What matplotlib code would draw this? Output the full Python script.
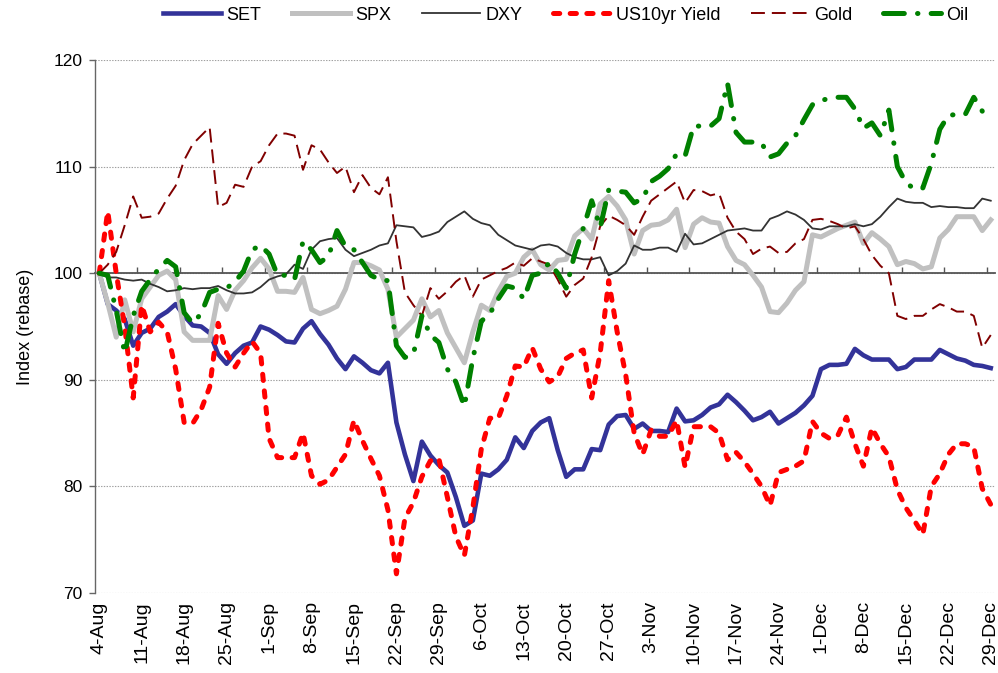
import matplotlib
matplotlib.use("Agg")
import matplotlib.pyplot as plt
import numpy as np

plt.rcParams['font.family'] = ['Liberation Sans', 'DejaVu Sans']
plt.rcParams['lines.scale_dashes'] = False

week_labels = ['4-Aug', '11-Aug', '18-Aug', '25-Aug', '1-Sep', '8-Sep', '15-Sep', '22-Sep',
               '29-Sep', '6-Oct', '13-Oct', '20-Oct', '27-Oct', '3-Nov', '10-Nov', '17-Nov',
               '24-Nov', '1-Dec', '8-Dec', '15-Dec', '22-Dec', '29-Dec']

set_idx = [100.0, 97.1, 96.5, 95.7, 93.2, 94.4, 94.8, 95.9, 96.4, 97.1,
           96.0, 95.1, 95.0, 94.4, 92.4, 91.5, 92.5, 93.2, 93.5, 95.0,
           94.7, 94.2, 93.6, 93.5, 94.8, 95.5, 94.3, 93.3, 92.0, 91.0,
           92.2, 91.6, 90.9, 90.6, 91.6, 86.0, 83.0, 80.5, 84.2, 82.9,
           82.0, 81.3, 79.0, 76.3, 76.8, 81.2, 81.0, 81.6, 82.5, 84.6,
           83.6, 85.2, 86.0, 86.4, 83.4, 80.9, 81.6, 81.6, 83.5, 83.4,
           85.8, 86.6, 86.7, 85.4, 85.9, 85.2, 85.2, 85.1, 87.3, 86.1,
           86.2, 86.7, 87.4, 87.7, 88.6, 87.9, 87.1, 86.2, 86.5, 87.0,
           85.9, 86.4, 86.9, 87.6, 88.5, 91.0, 91.4, 91.4, 91.5, 92.9,
           92.3, 91.9, 91.9, 91.9, 91.0, 91.2, 91.9, 91.9, 91.9, 92.8,
           92.4, 92.0, 91.8, 91.4, 91.3, 91.1]

spx = [100.0, 97.2, 94.0, 97.5, 94.5, 97.6, 98.7, 99.8, 100.2, 99.4,
       94.5, 93.7, 93.7, 93.7, 97.9, 96.6, 98.4, 99.3, 100.5, 101.4,
       100.4, 98.3, 98.3, 98.2, 99.6, 96.6, 96.2, 96.5, 96.9, 98.5,
       101.0, 101.0, 100.7, 100.3, 98.5, 94.0, 94.8, 95.6, 97.6, 95.9,
       96.5, 94.4, 93.0, 91.6, 94.5, 97.0, 96.5, 98.3, 99.7, 100.0,
       101.5, 102.2, 100.8, 100.3, 101.2, 101.3, 103.5, 104.2, 103.2, 106.5,
       107.2, 106.3, 105.0, 101.8, 104.0, 104.5, 104.6, 105.0, 106.0, 102.4,
       104.6, 105.2, 104.8, 104.7, 102.5, 101.2, 100.8, 99.8, 98.7, 96.4,
       96.3, 97.2, 98.4, 99.2, 103.6, 103.4, 103.8, 104.2, 104.5, 104.8,
       102.8, 103.8, 103.2, 102.5, 100.8, 101.1, 100.9, 100.4, 100.6, 103.3,
       104.1, 105.3, 105.3, 105.3, 104.0, 105.0]

dxy = [100.0, 99.6, 99.6, 99.4, 99.3, 99.4, 99.0, 98.7, 98.3, 98.4,
       98.6, 98.5, 98.6, 98.6, 98.8, 98.4, 98.1, 98.1, 98.2, 98.7,
       99.4, 99.7, 99.9, 100.8, 100.4, 102.2, 103.0, 103.2, 103.3, 102.2,
       101.6, 101.9, 102.2, 102.6, 102.8, 104.5, 104.4, 104.3, 103.4, 103.6,
       103.9, 104.8, 105.3, 105.8, 105.1, 104.7, 104.5, 103.6, 103.1, 102.6,
       102.4, 102.2, 102.6, 102.7, 102.5, 101.9, 101.5, 101.3, 101.3, 101.5,
       99.8, 100.2, 100.9, 102.6, 102.2, 102.2, 102.4, 102.4, 102.0, 103.7,
       102.7, 102.8, 103.2, 103.6, 104.0, 104.1, 104.2, 104.0, 104.0, 105.1,
       105.4, 105.8, 105.5, 105.0, 104.2, 104.1, 104.4, 104.4, 104.4, 104.6,
       104.4, 104.6, 105.3, 106.2, 107.0, 106.7, 106.6, 106.6, 106.2, 106.3,
       106.2, 106.2, 106.1, 106.1, 107.0, 106.8]

us10 = [100.0, 105.8, 100.0, 95.0, 88.3, 97.0, 94.5, 95.4, 94.5, 91.0,
        86.0, 85.9, 87.2, 89.3, 95.3, 92.5, 91.2, 92.5, 93.6, 92.5,
        84.5, 82.7, 82.7, 82.7, 85.0, 81.0, 80.2, 80.6, 81.8, 83.0,
        86.2, 84.3, 82.6, 81.0, 77.8, 71.8, 77.0, 78.5, 80.9, 82.4,
        82.6, 79.0, 75.3, 73.5, 78.0, 83.5, 86.4, 86.4, 88.5, 91.3,
        91.2, 93.0, 91.0, 89.8, 90.3, 92.0, 92.5, 92.8, 88.3, 92.5,
        99.3, 94.5, 90.5, 85.0, 83.0, 85.3, 84.7, 84.7, 86.2, 81.8,
        85.6, 85.6, 85.6, 85.0, 82.5, 83.2, 82.3, 81.2, 80.0, 78.2,
        81.3, 81.6, 81.9, 82.4, 86.1, 85.0, 84.5, 84.8, 86.5, 84.0,
        81.9, 85.5, 84.0, 82.8, 79.7, 78.0, 76.8, 75.5, 80.0, 81.2,
        83.0, 84.0, 84.0, 83.7, 79.8, 78.3]

gold = [100.0, 100.8, 102.0, 104.5, 107.2, 105.2, 105.3, 105.6, 107.0, 108.2,
        110.6, 112.1, 112.9, 113.7, 106.2, 106.6, 108.3, 108.1, 110.0, 110.5,
        112.0, 113.1, 113.1, 112.9, 109.7, 112.0, 111.6, 110.4, 109.4, 110.0,
        107.6, 109.2, 108.0, 107.4, 109.0, 103.0, 98.2, 97.0, 96.0, 98.6,
        97.6, 98.3, 99.2, 99.8, 97.8, 99.4, 99.8, 100.2, 100.5, 101.0,
        100.7, 101.4, 101.1, 100.8, 99.4, 97.8, 98.9, 99.5, 101.5, 104.4,
        105.4, 105.0, 104.5, 103.6, 105.3, 106.8, 107.4, 108.0, 108.6, 106.6,
        107.8, 107.7, 107.3, 107.5, 105.2, 103.9, 103.2, 101.8, 102.3, 102.5,
        101.9, 102.0, 102.8, 103.2, 105.0, 105.1, 104.9, 104.6, 104.2, 104.4,
        103.2, 101.7, 100.7, 100.0, 96.0, 95.7, 96.0, 96.0, 96.6, 97.1,
        96.8, 96.4, 96.4, 96.0, 93.0, 94.2]

oil = [100.0, 99.8, 96.5, 92.5, 96.0, 98.3, 99.4, 100.4, 101.2, 100.6,
       96.3, 95.3, 96.2, 98.2, 98.5, 98.6, 99.2, 100.2, 102.2, 102.6,
       101.8, 99.8, 99.8, 99.4, 103.0, 102.2, 101.0, 101.6, 104.0, 102.5,
       102.2, 101.0, 99.8, 99.4, 99.3, 93.2, 92.1, 92.4, 96.0, 94.2,
       93.5, 91.0, 89.8, 87.5, 92.0, 95.5, 96.2, 97.6, 98.8, 98.6,
       97.6, 99.8, 100.0, 101.0, 100.0, 98.6, 101.8, 104.2, 106.8, 104.3,
       107.8, 107.7, 107.6, 106.6, 107.0, 108.6, 109.1, 109.8, 111.2, 111.0,
       113.8, 113.8, 113.8, 114.5, 117.8, 113.2, 112.3, 112.3, 112.2, 110.9,
       111.2, 112.2, 112.9, 114.4, 115.8, 116.2, 116.4, 116.5, 116.5, 115.4,
       113.6, 114.1, 112.9, 115.3, 110.0, 108.5, 107.9, 108.0, 110.3, 113.5,
       114.8, 114.9, 114.9, 116.5, 115.2, 114.3]

x = np.arange(len(set_idx))

fig = plt.figure(figsize=(9.98, 6.73), dpi=100)
ax = fig.add_axes([95 / 998, 1 - 593 / 673, 900 / 998, 533 / 673])

ax.plot(x, set_idx, color='#333399', lw=3.3, label='SET', zorder=3)
ax.plot(x, spx, color='#C0C0C0', lw=3.6, label='SPX', zorder=4)
ax.plot(x, dxy, color='#333333', lw=1.3, label='DXY', zorder=5)
ax.plot(x, us10, color='#FF0000', lw=3.6, dashes=(4.5, 7.5), dash_capstyle='round',
        label='US10yr Yield', zorder=6)
ax.plot(x, gold, color='#800000', lw=1.4, dashes=(10, 5), label='Gold', zorder=7)
ax.plot(x, oil, color='#008000', lw=3.6, dashes=(15, 9.5, 0.3, 9.5), dash_capstyle='round',
        label='Oil', zorder=8)

ax.set_xlim(-0.5, len(x) - 0.5)
ax.set_ylim(70, 120)
ax.set_yticks([70, 80, 90, 100, 110, 120])
ax.yaxis.grid(True, linestyle=(0, (1, 1)), linewidth=0.8, color='#A0A0A0')
ax.set_axisbelow(True)

for s in ['top', 'right']:
    ax.spines[s].set_visible(False)
ax.spines['left'].set_color('#666666')
ax.spines['left'].set_linewidth(1.0)
ax.spines['bottom'].set_position(('data', 100))
ax.spines['bottom'].set_color('#555555')
ax.spines['bottom'].set_linewidth(1.3)
ax.spines['bottom'].set_zorder(2)

ax.set_xticks(np.arange(4.5, len(x) - 1, 5))
ax.tick_params(axis='x', direction='in', length=4, width=1.0, color='#555555', labelbottom=False)
ax.tick_params(axis='y', direction='out', length=4, width=1.0, color='#666666', labelsize=12.5, pad=5)

sec = ax.secondary_xaxis(0)
sec.set_xticks(x[::5])
sec.set_xticklabels(week_labels, rotation=90, fontsize=14)
sec.tick_params(length=0, pad=6)
sec.spines['bottom'].set_visible(False)

ax.set_ylabel('Index (rebase)', fontsize=13, labelpad=14)

handles, labels = ax.get_legend_handles_labels()
fig.legend(handles, labels, loc='center', bbox_to_anchor=(566 / 998, 1 - 15 / 673), ncol=6,
           frameon=False, fontsize=13, handlelength=3.2, handletextpad=0.3, columnspacing=1.7)

fig.savefig('out.png', dpi=100)
